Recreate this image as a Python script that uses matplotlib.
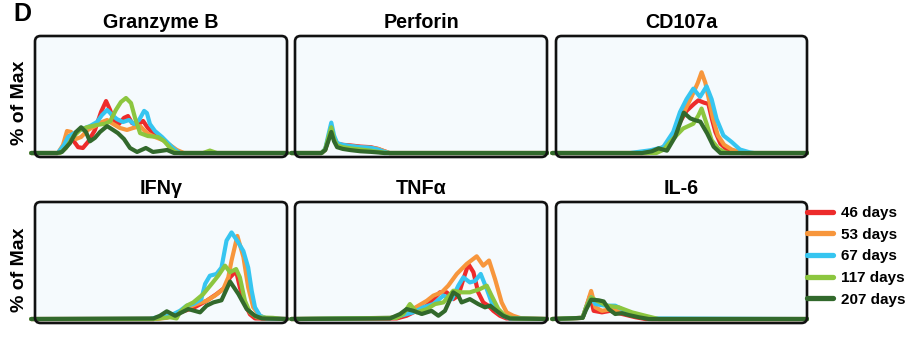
import matplotlib
matplotlib.use("Agg")
import matplotlib.pyplot as plt
from matplotlib.lines import Line2D
from matplotlib.patches import FancyBboxPatch

plt.rcParams["font.family"] = ["Liberation Sans", "DejaVu Sans"]

# time points and their colours
DAYS = ["46 days", "53 days", "67 days", "117 days", "207 days"]
COLORS = ["#ED2B2B", "#F7963C", "#36C5F0", "#8CC63F", "#32692C"]
BG = "#F5FAFD"

# --- Granzyme B (x: fluorescence channel 0-100, y: % of max)
GRZB_46_X = [9.1, 11.5, 13.1, 15.1, 17.1, 19.0, 21.0, 23.8, 26.2, 28.2, 29.8, 31.3, 33.3, 35.3, 36.9, 38.5, 40.5, 42.9, 44.8, 47.2, 50.0, 52.4, 54.4, 56.7, 58.7]
GRZB_46_Y = [0, 6, 14.5, 11, 5, 4.3, 9.4, 19.7, 35, 44.4, 36.8, 27.4, 24.8, 30, 31.6, 25.6, 24, 27.4, 21.4, 16.2, 12.8, 8.5, 4.3, 0.9, 0]
GRZB_53_X = [9.1, 11.1, 12.7, 14.3, 16.3, 18.3, 21.0, 23.8, 26.6, 28.6, 31.0, 33.7, 36.5, 38.9, 41.7, 44.4, 47.6, 50.8, 53.6, 56.3, 59.1]
GRZB_53_Y = [0, 6.8, 18.8, 18, 12, 13.7, 19.7, 23, 26.5, 28.2, 24.8, 21.4, 19.7, 21.4, 23, 17, 13.7, 11, 6.8, 2.6, 0]
GRZB_67_X = [9.1, 11.5, 13.1, 15.5, 18.7, 21.8, 24.6, 26.6, 28.6, 30.6, 32.5, 34.9, 37.3, 39.3, 41.3, 43.3, 44.4, 45.6, 47.6, 50.4, 52.8, 55.2, 57.5]
GRZB_67_Y = [0, 6.8, 13.7, 17, 20.5, 23, 26.5, 32.5, 36.8, 32.5, 29, 26.5, 28.2, 24.8, 28.2, 36, 34.2, 24.8, 18.8, 13.7, 8.5, 3.4, 0]
GRZB_117_X = [9.9, 12.3, 15.1, 17.9, 20.6, 24.6, 27.8, 29.8, 32.1, 34.1, 36.1, 38.1, 39.7, 41.7, 44.8, 48.8, 51.2, 53.6, 55.6, 57.5, 66.7, 69.4, 72.2]
GRZB_117_Y = [0, 4.3, 13.7, 19.7, 22, 24, 25, 27, 36.8, 43.6, 47, 42.7, 30, 17, 14.5, 13.7, 10.3, 4.3, 0.9, 0, 0, 2.1, 0]
GRZB_207_X = [8.7, 10.7, 13.9, 16.3, 18.3, 20.2, 21.8, 23.8, 25.8, 28.6, 31.0, 32.9, 35.3, 37.7, 40.5, 44.0, 46.8, 49.6, 52.4, 55.2]
GRZB_207_Y = [0, 0.9, 8.5, 18, 22, 18, 10, 13, 18, 23, 19.7, 17, 12, 4.3, 0.9, 4.3, 0.9, 1.7, 2.6, 0]

# --- Perforin
PERF_X = [10.5, 12, 13.2, 14.4, 15.5, 16.7, 19, 22, 26, 30, 33, 35.5, 37.5]
PERF_46_Y = [0, 3, 12, 20, 13, 8, 7, 6.5, 5.5, 5, 3.5, 1.5, 0]
PERF_53_Y = [0, 3, 12, 20, 13, 8, 6.5, 6, 5, 4.5, 3.5, 1.5, 0]
PERF_67_Y = [0, 3.5, 15, 26, 15, 8.5, 7, 6, 5, 4.5, 3, 1, 0]
PERF_117_Y = [0, 3, 13, 22, 12, 6.5, 5, 4, 3, 2, 1, 0.3, 0]
PERF_207_Y = [0, 2.5, 10, 18, 10, 5, 3.5, 2.5, 1.5, 1, 0.5, 0, 0]

# --- CD107a
CD107_46_X = [37, 42, 46, 49, 52, 55, 56.7, 59, 60.7, 62, 63.5, 65.5, 68, 71, 74]
CD107_46_Y = [0, 4, 10, 25, 36, 42, 45, 43, 42, 30, 18, 8, 3, 1, 0]
CD107_53_X = [36, 41, 45, 48, 51, 54, 56.5, 58, 59.5, 61, 62.5, 64.5, 67, 70, 73, 76]
CD107_53_Y = [0, 3, 8, 20, 35, 48, 60, 69, 60, 45, 30, 15, 7, 3, 1, 0]
CD107_67_X = [29.5, 37.5, 42.7, 46.7, 49.4, 52, 54.7, 57.4, 60, 62, 64, 66.7, 70, 73.3, 77.3, 79]
CD107_67_Y = [0, 2.3, 5, 18, 35, 46, 55, 48, 57, 46, 29, 15, 9.4, 3, 0.5, 0]
CD107_117_X = [40, 43, 45.4, 50.7, 54.7, 56.7, 58, 60, 62, 64.7, 67.4, 69]
CD107_117_Y = [0, 3, 9.4, 21, 25, 32, 38, 25, 11, 3.7, 0.5, 0]
CD107_207_X = [34.3, 38.2, 40.9, 44.2, 47.5, 50.9, 53.5, 55.5, 57.5, 60.2, 62.8, 65.5]
CD107_207_Y = [0, 1.5, 4, 2, 14, 34.5, 29.6, 28, 26.8, 16.8, 5.4, 0]

# --- IFN-gamma
IFN_46_X = [47, 52.2, 57.5, 62.8, 68.1, 72.1, 75.4, 77.4, 79.8, 81.3, 83.3, 85.3, 87.3]
IFN_46_Y = [0, 1.5, 5.7, 9.4, 15.6, 21.4, 27, 35.6, 41, 27, 12.8, 4, 0.5]
IFN_53_X = [47, 52.2, 56.2, 60.2, 64.2, 68.1, 71.4, 74.7, 76.7, 78, 80.3, 82.7, 84.6, 86.6, 89.3, 91.8]
IFN_53_Y = [0, 1, 4.3, 9.4, 12.8, 15.6, 20, 25.6, 35.6, 50, 71, 53, 27, 10, 2.8, 0.5]
IFN_67_X = [45.6, 48.3, 53.6, 57.5, 60.2, 62.8, 66, 67.5, 69.4, 72, 74, 76, 78, 80.5, 82.7, 84.6, 86, 87.3, 89.3, 91.8]
IFN_67_Y = [0, 1.4, 2.8, 7, 11.4, 12.8, 17, 30, 37, 38.5, 44, 67, 74, 66, 58, 44, 24, 10, 2.8, 0.5]
IFN_117_X = [47, 53.6, 56.2, 57.5, 60.2, 62.8, 66.8, 70.1, 72.7, 75.4, 77.4, 79.8, 81.3, 83.3, 85.3, 88, 94.5, 98]
IFN_117_Y = [0, 1.5, 0.5, 5.7, 11.4, 14.2, 21.4, 30, 37, 45.6, 40, 42.7, 35.6, 15.6, 5.7, 1.5, 1, 0]
IFN_207_X = [47, 49.6, 52.3, 55.6, 60.8, 65.5, 68.1, 70.8, 74, 77.4, 80.7, 84, 87.3, 90]
IFN_207_Y = [0.5, 2.8, 6.6, 2.8, 8.5, 5.7, 11.4, 14.2, 16, 32, 21.4, 8.5, 2.8, 0.5]

# --- TNF-alpha
TNF_46_X = [40.4, 44.3, 48.2, 52.3, 54.9, 57.5, 60.2, 62.8, 64.8, 66.8, 68.8, 70.8, 72.7, 74.7, 76.7, 78.7, 81.3, 83.9]
TNF_46_Y = [0.5, 2.8, 7, 11.4, 17, 22.8, 22.8, 17, 20, 34, 47, 40, 22.8, 14.2, 11.4, 7, 2.8, 0.5]
TNF_53_X = [37.7, 41.7, 45.6, 49, 52.3, 54.9, 58.2, 60.8, 64.2, 68.1, 72.1, 74.7, 77, 79.4, 82, 84, 86.6, 89.9]
TNF_53_Y = [1, 2.8, 7, 11.4, 15.6, 20, 22.8, 28.5, 38.5, 47, 53.6, 45.6, 50, 34, 14.2, 5.7, 2.8, 0.5]
TNF_67_X = [39, 42.9, 46.9, 50.9, 54.9, 58.9, 62.2, 64.8, 66.8, 69.4, 71.4, 73.7, 76.1, 78, 80, 82.6, 85.2]
TNF_67_Y = [1, 3.4, 5.7, 10, 12.8, 20, 17, 28.5, 35.6, 31.3, 32.5, 38.5, 25.6, 14.2, 7, 2.8, 0.5]
TNF_117_X = [40.4, 43, 45.6, 48.3, 52.3, 55.6, 58.9, 62.8, 66.1, 69.4, 73.4, 76.1, 78, 80.7, 83.3, 86.6]
TNF_117_Y = [1, 4.3, 12.8, 5.7, 8.5, 12.8, 14.2, 24.2, 22.8, 22.8, 25.6, 28.5, 20, 8.5, 2.8, 0.5]
TNF_207_X = [37.7, 41.7, 44.3, 47, 50.3, 54.2, 56.9, 59.5, 62.8, 64.8, 66.1, 69.4, 72.7, 75.4, 77.4, 80, 82.6, 85.2]
TNF_207_Y = [0.5, 4.3, 8.5, 7, 4.3, 7, 2.8, 7, 22.8, 20, 14.2, 17, 12.8, 10, 11.4, 7, 2.8, 0.5]

# --- IL-6
IL6_46_X = [10.6, 12, 13.6, 15, 18.3, 21.6, 26.3, 31.7, 35.7]
IL6_46_Y = [1, 10, 20, 7, 5.7, 7, 4.3, 1.5, 0]
IL6_53_X = [10.6, 12, 14, 15.7, 18.3, 22.3, 27.6, 33, 38.2]
IL6_53_Y = [1, 10, 24, 10, 7, 8.5, 5.7, 2.8, 0]
IL6_67_X = [10.6, 12, 14, 15.7, 19.6, 23.6, 27.6, 33, 38.2]
IL6_67_Y = [1, 10, 18.5, 12.8, 11.4, 11.4, 7, 2.8, 0.5]
IL6_117_X = [10.6, 12, 14, 16.3, 20.3, 25, 30.3, 35.6, 40.9]
IL6_117_Y = [1, 10, 18.5, 15.6, 11.4, 10, 5.7, 2.8, 0]
IL6_207_X = [10.6, 12, 14, 17, 19, 21, 23.6, 26.3, 29, 33, 37]
IL6_207_Y = [1, 8, 16.5, 16, 15, 8.5, 4.3, 5, 3.4, 1.5, 0]

PANELS = [
    ("Granzyme B", [(GRZB_46_X, GRZB_46_Y), (GRZB_53_X, GRZB_53_Y), (GRZB_67_X, GRZB_67_Y),
                    (GRZB_117_X, GRZB_117_Y), (GRZB_207_X, GRZB_207_Y)]),
    ("Perforin", [(PERF_X, PERF_46_Y), (PERF_X, PERF_53_Y), (PERF_X, PERF_67_Y),
                  (PERF_X, PERF_117_Y), (PERF_X, PERF_207_Y)]),
    ("CD107a", [(CD107_46_X, CD107_46_Y), (CD107_53_X, CD107_53_Y), (CD107_67_X, CD107_67_Y),
                (CD107_117_X, CD107_117_Y), (CD107_207_X, CD107_207_Y)]),
    ("IFN\u03b3", [(IFN_46_X, IFN_46_Y), (IFN_53_X, IFN_53_Y), (IFN_67_X, IFN_67_Y),
                   (IFN_117_X, IFN_117_Y), (IFN_207_X, IFN_207_Y)]),
    ("TNF\u03b1", [(TNF_46_X, TNF_46_Y), (TNF_53_X, TNF_53_Y), (TNF_67_X, TNF_67_Y),
                   (TNF_117_X, TNF_117_Y), (TNF_207_X, TNF_207_Y)]),
    ("IL-6", [(IL6_46_X, IL6_46_Y), (IL6_53_X, IL6_53_Y), (IL6_67_X, IL6_67_Y),
              (IL6_117_X, IL6_117_Y), (IL6_207_X, IL6_207_Y)]),
]

W, H = 914, 338
fig = plt.figure(figsize=(W / 100, H / 100), dpi=100)

col_left = [35, 295, 556]
col_width = [252, 252, 251]
row_top = [36, 202]
box_h = 121

for i, (title, series) in enumerate(PANELS):
    row, col = divmod(i, 3)
    rect = [col_left[col] / W, 1 - (row_top[row] + box_h) / H, col_width[col] / W, box_h / H]
    ax = fig.add_axes(rect)
    ax.set_xlim(0, 100)
    ax.set_ylim(-3.4, 100)
    ax.set_axis_off()

    aspect = col_width[col] / box_h
    face = FancyBboxPatch((0, 0), 1, 1, boxstyle="round,pad=0,rounding_size=0.022",
                          mutation_aspect=aspect, transform=ax.transAxes,
                          fc=BG, ec="none", zorder=0, clip_on=False)
    edge = FancyBboxPatch((0, 0), 1, 1, boxstyle="round,pad=0,rounding_size=0.022",
                          mutation_aspect=aspect, transform=ax.transAxes,
                          fc="none", ec="#111111", lw=1.9, zorder=5, clip_on=False)
    ax.add_patch(face)
    ax.add_patch(edge)

    for (xs, ys), color in zip(series, COLORS):
        x = [-1.5] + list(xs) + [100]
        y = [0] + list(ys) + [0]
        ax.plot(x, y, color=color, lw=3.0, solid_joinstyle="round",
                solid_capstyle="round", clip_on=False, zorder=2)

    ax.set_title(title, fontsize=14.2, fontweight="bold", pad=6)

for yc in (103, 270):
    fig.text(20 / W, 1 - yc / H, "% of Max", rotation=90, ha="center", va="center",
             fontsize=14, fontweight="bold")

fig.text(13 / W, 1 - 2 / H, "D", ha="left", va="top", fontsize=18, fontweight="bold")

handles = [Line2D([0], [0], color=c, lw=3.8, solid_capstyle="round") for c in COLORS]
fig.legend(handles, DAYS, loc="upper left", bbox_to_anchor=(807 / W, 1 - 206 / H),
           frameon=False, prop={"size": 11, "weight": "bold"}, handlelength=1.7,
           handletextpad=0.5, labelspacing=0.5, borderpad=0, borderaxespad=0)

fig.savefig("out.png", dpi=100, facecolor="white")
plt.close(fig)
